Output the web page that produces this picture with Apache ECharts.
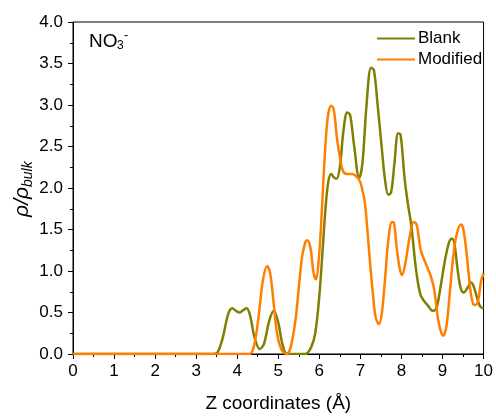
<!DOCTYPE html>
<html>
<head>
<meta charset="utf-8">
<script src="https://cdn.jsdelivr.net/npm/echarts@6/dist/echarts.min.js"></script>
<style>
  html, body { margin: 0; padding: 0; background: #fff; }
  #chart { width: 496px; height: 418px; }
</style>
</head>
<body>
<div id="chart"></div>
<script>
// Z positions (Å) and relative density for the unmodified surface
const zBlank = [0, 3.4, 3.52, 3.65, 3.78, 3.88, 3.97, 4.06, 4.15, 4.23, 4.32, 4.42, 4.55, 4.65, 4.78, 4.89, 5.0, 5.1, 5.21, 5.4, 5.66, 5.8, 5.9, 6.0, 6.08, 6.15, 6.22, 6.29, 6.35, 6.42, 6.5, 6.59, 6.68, 6.75, 6.85, 6.97, 7.05, 7.15, 7.26, 7.33, 7.42, 7.51, 7.6, 7.68, 7.75, 7.83, 7.92, 7.98, 8.08, 8.16, 8.24, 8.36, 8.46, 8.55, 8.65, 8.76, 8.85, 8.95, 9.05, 9.15, 9.22, 9.28, 9.36, 9.44, 9.52, 9.6, 9.7, 9.77, 9.84, 9.92, 10];
const rhoBlank = [0, 0, 0.02, 0.2, 0.48, 0.55, 0.52, 0.5, 0.53, 0.55, 0.45, 0.2, 0.06, 0.12, 0.4, 0.52, 0.38, 0.12, 0, 0, 0, 0.08, 0.25, 0.7, 1.25, 1.75, 2.08, 2.17, 2.13, 2.11, 2.25, 2.7, 2.91, 2.88, 2.5, 2.12, 2.3, 3.0, 3.45, 3.42, 3.0, 2.54, 2.1, 1.92, 1.95, 2.3, 2.66, 2.64, 2.1, 1.8, 1.55, 1.0, 0.72, 0.64, 0.58, 0.52, 0.55, 0.8, 1.1, 1.33, 1.39, 1.36, 1.05, 0.8, 0.74, 0.79, 0.86, 0.8, 0.68, 0.57, 0.55];

// Z positions (Å) and relative density for the modified surface
const zModified = [0, 4.3, 4.38, 4.45, 4.53, 4.63, 4.73, 4.8, 4.88, 4.97, 5.08, 5.2, 5.3, 5.42, 5.5, 5.58, 5.66, 5.7, 5.78, 5.86, 5.92, 5.98, 6.04, 6.1, 6.16, 6.22, 6.29, 6.35, 6.43, 6.51, 6.58, 6.67, 6.8, 6.9, 6.99, 7.06, 7.11, 7.17, 7.23, 7.3, 7.37, 7.45, 7.52, 7.6, 7.68, 7.77, 7.82, 7.88, 7.95, 8.01, 8.08, 8.2, 8.3, 8.37, 8.47, 8.56, 8.65, 8.72, 8.8, 8.91, 9.02, 9.1, 9.18, 9.27, 9.35, 9.45, 9.5, 9.57, 9.63, 9.69, 9.75, 9.8, 9.87, 9.94, 10];
const rhoModified = [0, 0, 0.05, 0.2, 0.49, 0.9, 1.06, 0.98, 0.65, 0.25, 0.05, 0, 0.08, 0.41, 0.8, 1.17, 1.35, 1.37, 1.29, 0.98, 0.9, 1.1, 1.53, 2.1, 2.6, 2.9, 2.99, 2.95, 2.6, 2.34, 2.2, 2.17, 2.17, 2.14, 2.08, 1.95, 1.82, 1.5, 1.13, 0.75, 0.45, 0.36, 0.48, 0.9, 1.37, 1.59, 1.58, 1.3, 1.05, 0.95, 1.05, 1.41, 1.59, 1.56, 1.25, 1.13, 1.02, 0.93, 0.77, 0.37, 0.22, 0.35, 0.75, 1.21, 1.45, 1.56, 1.52, 1.29, 1.0, 0.73, 0.6, 0.59, 0.65, 0.88, 0.97];

const seriesNames = ['Blank', 'Modified'];
const seriesColors = ['#808000', '#ff7f00'];

const pairs = (xs, ys) => xs.map((x, i) => [x, ys[i]]);

const fontFamily = 'Arial, "Liberation Sans", sans-serif';

const chart = echarts.init(document.getElementById('chart'), null, { renderer: 'canvas' });

chart.setOption({
  animation: false,
  backgroundColor: '#ffffff',
  textStyle: { fontFamily: fontFamily, color: '#000' },
  grid: {
    left: 73, right: 10, top: 22, bottom: 64,
    show: true, borderColor: '#000', borderWidth: 1, backgroundColor: 'transparent'
  },
  legend: {
    orient: 'vertical',
    left: 372, top: 25,
    itemWidth: 38, itemHeight: 2, itemGap: 4,
    icon: 'rect',
    textStyle: { fontSize: 17, color: '#000', fontFamily: fontFamily, padding: [0, 0, 0, -2] },
    data: seriesNames
  },
  xAxis: {
    type: 'value',
    min: 0, max: 10, interval: 1,
    name: 'Z coordinates (Å)',
    nameLocation: 'middle',
    nameGap: 40,
    nameTextStyle: { fontSize: 19, color: '#000', fontFamily: fontFamily },
    axisLine: { show: true, onZero: false, lineStyle: { color: '#000', width: 1 } },
    axisTick: { show: true, inside: false, length: 5, lineStyle: { color: '#000' } },
    minorTick: { show: true, splitNumber: 2, length: 3, lineStyle: { color: '#000' } },
    splitLine: { show: false },
    axisLabel: { fontSize: 17, color: '#000', margin: 9, fontFamily: fontFamily }
  },
  yAxis: {
    type: 'value',
    min: 0, max: 4, interval: 0.5,
    axisLine: { show: true, onZero: false, lineStyle: { color: '#000', width: 1 } },
    axisTick: { show: true, inside: false, length: 5, lineStyle: { color: '#000' } },
    minorTick: { show: true, splitNumber: 2, length: 3, lineStyle: { color: '#000' } },
    splitLine: { show: false },
    axisLabel: {
      fontSize: 17, color: '#000', margin: 10, fontFamily: fontFamily,
      formatter: v => v.toFixed(1)
    }
  },
  series: [
    {
      name: seriesNames[0],
      type: 'line',
      data: pairs(zBlank, rhoBlank),
      smooth: 0.35,
      showSymbol: false,
      color: seriesColors[0],
      lineStyle: { color: seriesColors[0], width: 2.5 }
    },
    {
      name: seriesNames[1],
      type: 'line',
      data: pairs(zModified, rhoModified),
      smooth: 0.35,
      showSymbol: false,
      color: seriesColors[1],
      lineStyle: { color: seriesColors[1], width: 2.5 }
    }
  ],
  graphic: [
    // species label: NO3 with subscript 3 and superscript minus
    {
      type: 'group', left: 89, top: 29,
      children: [
        { type: 'text', x: 0, y: 0, style: { text: 'NO', font: '19px ' + fontFamily, fill: '#000', textVerticalAlign: 'top' } },
        { type: 'text', x: 28, y: 8, style: { text: '3', font: '12px ' + fontFamily, fill: '#000', textVerticalAlign: 'top' } },
        { type: 'text', x: 35, y: -3, style: { text: '-', font: '13px ' + fontFamily, fill: '#000', textVerticalAlign: 'top' } }
      ]
    },
    // y axis title: rho / rho_bulk, rotated to read upward
    {
      type: 'group', x: 22, y: 188, rotation: Math.PI / 2,
      children: [
        { type: 'text', x: 1, y: 0, style: { text: 'ρ/ρ', font: 'italic 21px ' + fontFamily, fill: '#000', textAlign: 'right', textVerticalAlign: 'middle' } },
        { type: 'text', x: 1, y: 6, style: { text: 'bulk', font: 'italic 14px ' + fontFamily, fill: '#000', textAlign: 'left', textVerticalAlign: 'middle' } }
      ]
    }
  ]
});
</script>
</body>
</html>
